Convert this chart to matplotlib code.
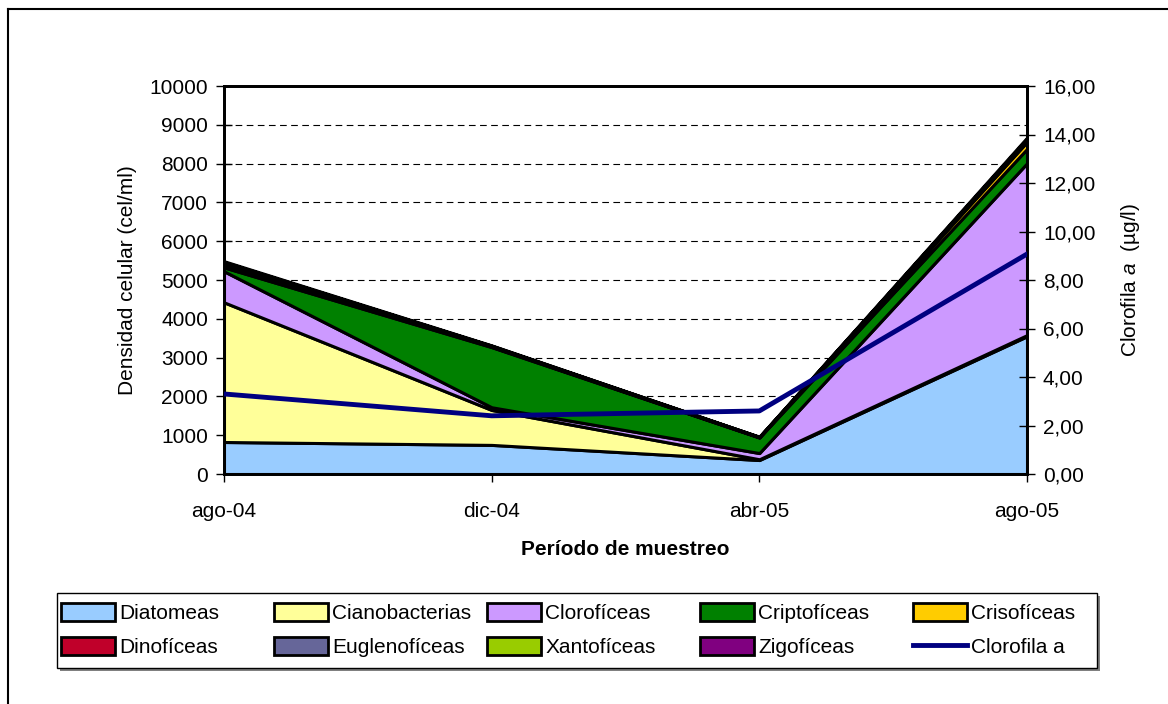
import numpy as np
import matplotlib.pyplot as plt
from matplotlib.lines import Line2D
from matplotlib.patches import Patch, Rectangle

plt.rcParams['font.family'] = ['Liberation Sans', 'DejaVu Sans']
plt.rcParams['mathtext.fontset'] = 'custom'
plt.rcParams['mathtext.it'] = 'Liberation Sans:italic'
plt.rcParams['mathtext.rm'] = 'Liberation Sans'

periodos = ["ago-04", "dic-04", "abr-05", "ago-05"]

# densidad celular por grupo (cel/ml)
diatomeas = [825, 750, 360, 3550]
cianobacterias = [3600, 900, 20, 30]
clorofíceas = [800, 70, 160, 4430]
criptofíceas = [100, 1550, 400, 370]
crisofíceas = [80, 15, 5, 180]
dinofíceas = [30, 10, 5, 40]
euglenofíceas = [20, 5, 5, 30]
xantofíceas = [10, 5, 2, 10]
zigofíceas = [20, 10, 3, 30]

# clorofila a (ug/l)
clorofila_a = [3.30, 2.40, 2.60, 9.07]

grupos = ["Diatomeas", "Cianobacterias", "Clorofíceas", "Criptofíceas", "Crisofíceas",
          "Dinofíceas", "Euglenofíceas", "Xantofíceas", "Zigofíceas"]
colores = ["#99CCFF", "#FFFF99", "#CC99FF", "#008000", "#FFCC00",
           "#C0002A", "#666699", "#99CC00", "#800080"]
series = [diatomeas, cianobacterias, clorofíceas, criptofíceas, crisofíceas,
          dinofíceas, euglenofíceas, xantofíceas, zigofíceas]

W, H = 1168, 704
fig = plt.figure(figsize=(W / 100, H / 100), dpi=100)

# marco de la figura (solo izquierda y arriba)
fig.add_artist(Line2D([8 / W, 8 / W], [0, 1 - 9 / H], color="black", lw=1.5))
fig.add_artist(Line2D([8 / W, 1], [1 - 9 / H, 1 - 9 / H], color="black", lw=1.5))

ax = fig.add_axes([224 / W, 1 - 474 / H, 803 / W, 388 / H])
x = np.arange(len(periodos))

ax.stackplot(x, *series, colors=colores, labels=grupos,
             edgecolor="black", linewidth=2.2, zorder=2)

ax.set_xlim(0, 3)
ax.set_ylim(0, 10000)
ax.set_yticks(np.arange(0, 10001, 1000))
ax.set_xticks(x)
ax.set_xticklabels(periodos)
ax.yaxis.grid(True, linestyle=(0, (6, 4)), color="black", linewidth=0.8)
ax.set_axisbelow(True)
ax.tick_params(axis="y", direction="inout", length=11, width=1, labelsize=15, pad=6)
ax.tick_params(axis="x", direction="inout", length=11, width=1, labelsize=15, pad=15)
for s in ax.spines.values():
    s.set_linewidth(2)
ax.set_ylabel("Densidad celular (cel/ml)", fontsize=15, labelpad=9)
ax.set_xlabel("Período de muestreo", fontsize=15, fontweight="bold", labelpad=13)

ax2 = ax.twinx()
ax2.plot(x, clorofila_a, color="#000080", linewidth=3.5, zorder=5)
ax2.set_ylim(0, 16)
ax2.set_yticks(np.arange(0, 16.1, 2))
ax2.set_yticklabels([f"{v:.2f}".replace(".", ",") for v in np.arange(0, 16.1, 2)])
ax2.tick_params(axis="y", direction="inout", length=11, width=1, labelsize=15, pad=6)
for s in ax2.spines.values():
    s.set_linewidth(2)
ax2.set_ylabel("Clorofila $\\it{a}$  (µg/l)", fontsize=15, labelpad=17)

# leyenda: caja con sombra y cinco columnas de dos entradas
fig.add_artist(Rectangle((60 / W, 1 - 671 / H), 1040 / W, 75 / H, transform=fig.transFigure,
                         facecolor="gray", edgecolor="none", zorder=3))
fig.add_artist(Rectangle((57 / W, 1 - 668 / H), 1040 / W, 75 / H, transform=fig.transFigure,
                         facecolor="white", edgecolor="black", linewidth=1, zorder=4))

handles = [Patch(facecolor=c, edgecolor="black", linewidth=2) for c in colores]
handles.append(Line2D([0], [0], color="#000080", linewidth=3.5))
labels = grupos + ["Clorofila a"]
for col in range(5):
    leg = fig.legend([handles[col], handles[col + 5]], [labels[col], labels[col + 5]],
                     loc="upper left", bbox_to_anchor=((61 + 213 * col) / W, 1 - 603 / H),
                     fontsize=15, frameon=False, handlelength=2.6, handleheight=0.95,
                     handletextpad=0.2, borderpad=0, borderaxespad=0, labelspacing=0.68)
    leg.set_zorder(5)

fig.savefig("out.png", dpi=100)
